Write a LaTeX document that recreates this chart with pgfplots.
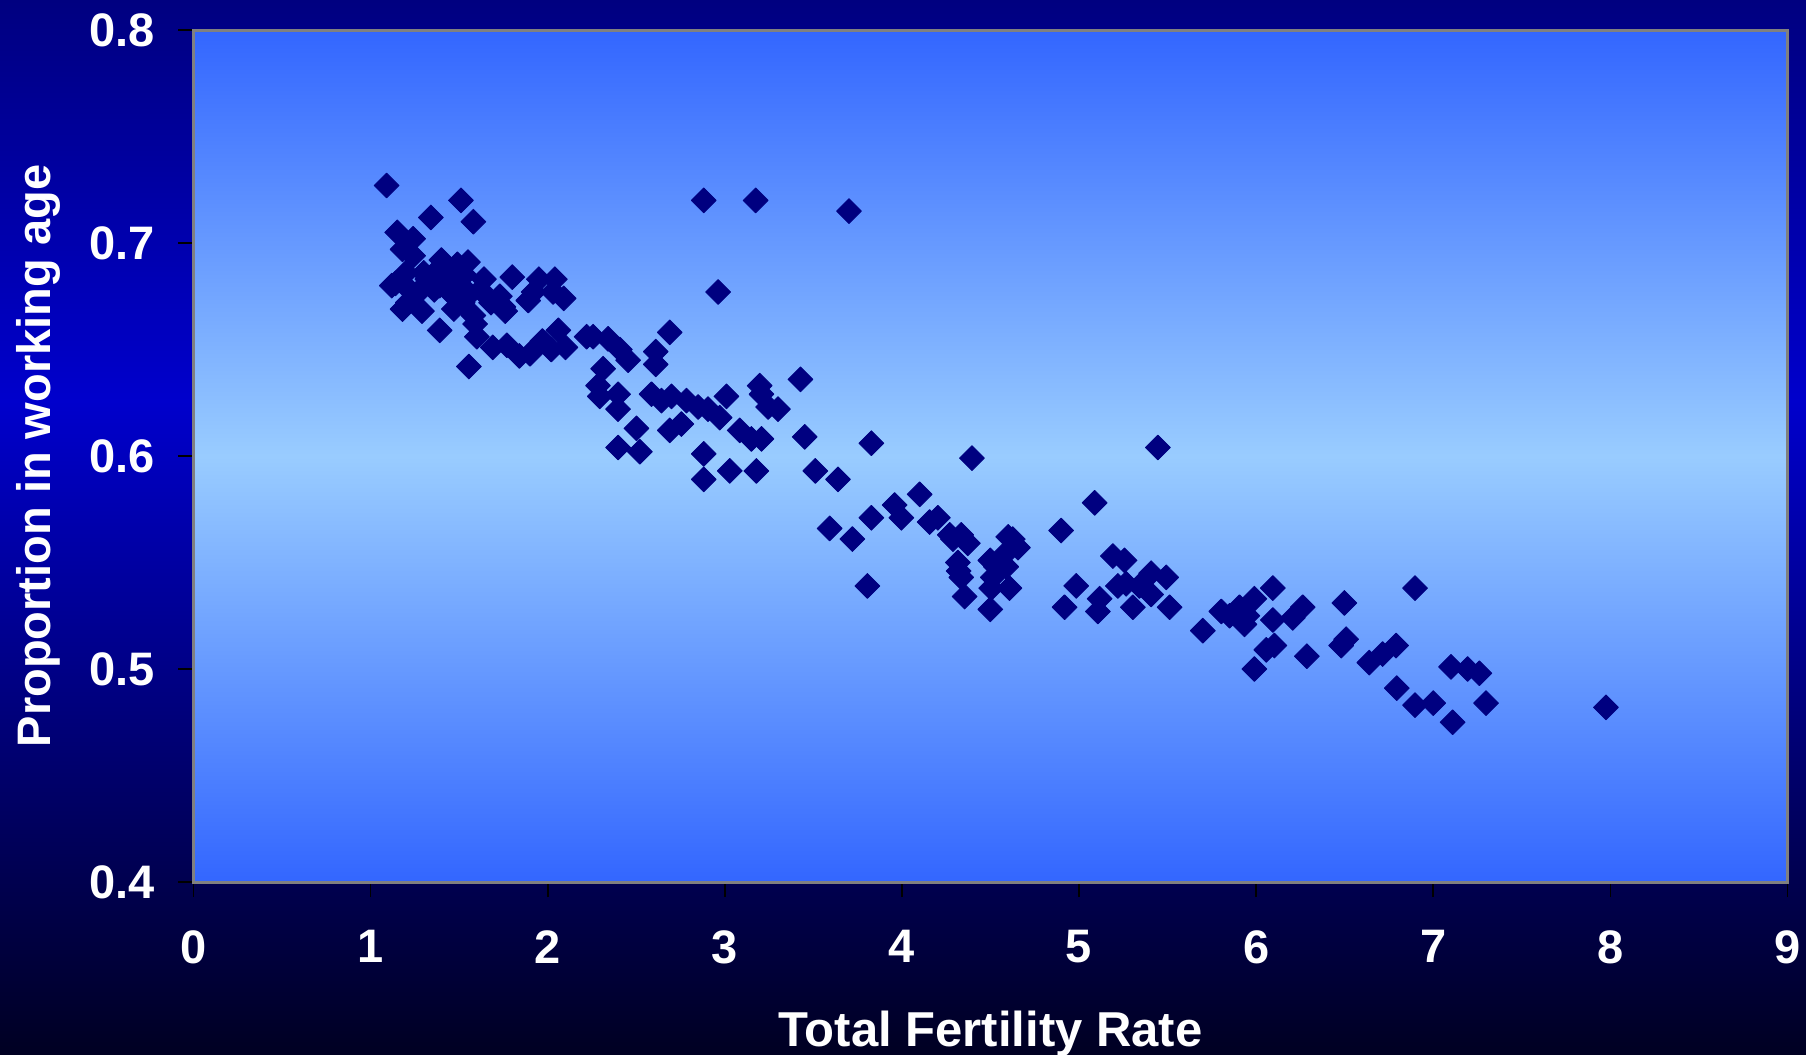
\documentclass[border=0pt]{standalone}
\usepackage{fontspec}
\setmainfont{Liberation Sans}
\usepackage{pgfplots}
\pgfplotsset{compat=1.18}
\definecolor{outtop}{HTML}{000080}
\definecolor{outmid}{HTML}{0000CC}
\definecolor{outbot}{HTML}{000022}
\definecolor{intop}{HTML}{3366FF}
\definecolor{inmid}{HTML}{99CCFF}
\definecolor{mk}{HTML}{000080}
\definecolor{frame}{HTML}{808080}
\pgfdeclareverticalshading{outerbg}{100bp}{color(0bp)=(outbot); color(25bp)=(outbot); color(56bp)=(outmid); color(75bp)=(outtop); color(100bp)=(outtop)}
\newcommand{\bigfont}{\fontsize{23.5}{28}\selectfont\bfseries}
\begin{document}
\begin{tikzpicture}
\shade[shading=outerbg] (-96.75pt,-86.5pt) rectangle (806.25pt,441pt);
\begin{axis}[
  scale only axis,
  width=797pt, height=426pt,
  xmin=0, xmax=9, ymin=0.4, ymax=0.8,
  xtick={0,1,...,9},
  ytick={0.4,0.5,0.6,0.7,0.8},
  xtick pos=bottom, ytick pos=left,
  tick align=outside,
  major tick length=7.5pt,
  every tick/.style={black, line width=0.8pt},
  axis line style={draw=frame, line width=1.5pt},
  axis background/.style={shade, top color=intop, bottom color=intop, middle color=inmid},
  /pgf/number format/assume math mode=true,
  yticklabel style={/pgf/number format/fixed, /pgf/number format/fixed zerofill, /pgf/number format/precision=1},
  tick label style={font=\bigfont, text=white},
  xticklabel style={anchor=north, inner sep=0pt, yshift=-16.5pt},
  yticklabel style={anchor=east, inner sep=0pt, xshift=-11.5pt},
  xlabel={Total Fertility Rate},
  ylabel={Proportion in working age},
  xlabel style={font=\fontsize{24.5}{28}\selectfont\bfseries, text=white, at={(axis description cs:0.5,-0.178)}, anchor=center},
  ylabel style={font=\bigfont, text=white, at={(axis description cs:-0.0975,0.5)}, anchor=center},
]
\addplot[only marks, mark=square*, mark size=4.4pt, mark options={rotate=45, fill=mk, draw=mk, line join=round}] table {
x y
1.09 0.727
1.51 0.720
1.34 0.712
1.58 0.710
1.15 0.705
1.24 0.702
1.18 0.697
1.24 0.694
1.14 0.681
1.20 0.686
1.40 0.692
1.49 0.690
1.55 0.691
1.64 0.683
1.32 0.683
1.26 0.676
1.18 0.669
1.29 0.668
1.47 0.675
1.56 0.676
1.58 0.666
1.59 0.662
1.39 0.680
1.39 0.659
1.60 0.656
1.555 0.642
1.80 0.684
1.95 0.683
2.04 0.683
2.09 0.674
1.73 0.675
1.76 0.668
1.89 0.673
1.92 0.677
1.69 0.651
1.77 0.652
1.84 0.647
1.90 0.648
1.97 0.654
2.06 0.659
2.10 0.651
2.02 0.650
1.22 0.678
1.30 0.686
1.35 0.685
1.45 0.683
1.50 0.680
1.44 0.688
1.52 0.672
1.12 0.680
1.28 0.678
1.62 0.678
1.47 0.669
1.53 0.685
1.36 0.678
1.21 0.672
1.75 0.670
1.68 0.672
2.03 0.677
2.22 0.656
2.256 0.656
2.341 0.655
2.407 0.650
2.454 0.645
2.689 0.658
2.61 0.649
2.61 0.643
2.313 0.641
2.284 0.633
2.294 0.628
2.397 0.629
2.397 0.622
2.586 0.629
2.642 0.626
2.699 0.628
2.783 0.626
2.849 0.623
2.905 0.622
2.971 0.618
3.009 0.628
2.501 0.613
2.397 0.604
2.52 0.602
2.689 0.612
2.755 0.615
3.084 0.612
3.150 0.608
3.207 0.608
3.197 0.633
3.207 0.629
3.30 0.622
3.244 0.623
3.427 0.636
2.881 0.601
2.881 0.589
3.028 0.593
3.178 0.593
3.451 0.609
3.511 0.593
3.639 0.589
3.827 0.606
2.881 0.720
3.174 0.720
2.962 0.677
3.701 0.715
3.959 0.577
3.997 0.571
3.827 0.571
3.592 0.566
3.72 0.561
4.100 0.582
4.203 0.571
4.156 0.569
4.288 0.561
4.372 0.559
4.335 0.563
4.626 0.561
4.655 0.557
4.316 0.550
4.335 0.543
4.354 0.534
4.499 0.551
4.513 0.543
4.504 0.538
4.607 0.538
4.589 0.548
4.499 0.528
3.805 0.539
4.395 0.599
4.899 0.565
5.088 0.578
5.191 0.553
5.257 0.551
4.984 0.539
4.918 0.529
5.116 0.533
5.106 0.527
5.219 0.539
5.266 0.540
5.304 0.529
5.407 0.545
5.492 0.543
5.407 0.535
5.341 0.539
5.511 0.529
5.445 0.604
4.27 0.563
4.32 0.546
4.53 0.548
4.57 0.553
4.60 0.562
5.699 0.518
5.803 0.527
5.906 0.529
5.990 0.533
6.094 0.538
5.934 0.521
6.094 0.523
6.207 0.524
6.263 0.529
6.498 0.531
6.057 0.509
6.103 0.511
5.990 0.500
6.286 0.506
6.48 0.511
6.508 0.514
6.639 0.503
6.714 0.507
6.79 0.511
6.794 0.491
6.897 0.538
6.897 0.483
7.0 0.484
7.109 0.475
7.1 0.501
7.194 0.500
7.26 0.498
7.298 0.484
7.975 0.482
5.85 0.525
5.95 0.525
};
\end{axis}
\pgfresetboundingbox
\path (-96.75pt,-86.5pt) rectangle (806.25pt,441pt);
\end{tikzpicture}
\end{document}
